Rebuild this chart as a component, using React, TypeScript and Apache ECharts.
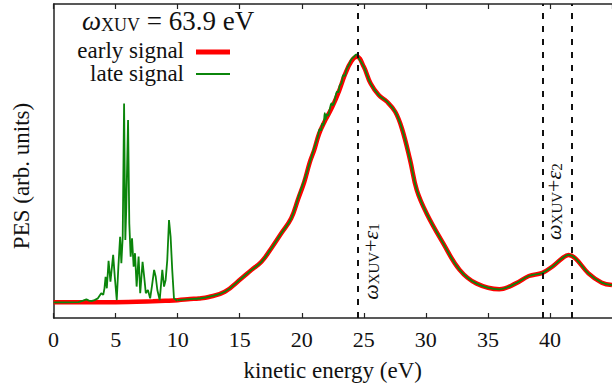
import React, { useEffect, useRef } from "react";
import * as echarts from "echarts";

// Early signal (red), kinetic energy (eV) vs PES (arb. units, main peak = 1)
const earlyX = [0, 2, 4, 6, 8, 9, 10, 11, 11.7, 12.5, 13.8, 15.15, 15.95, 16.75, 17.55, 18.35, 19.15, 19.7, 20.2, 20.65, 21.0, 21.4, 21.9, 22.45, 23.0, 23.5, 24.0, 24.45, 25.0, 25.54, 26.2, 26.87, 27.53, 28.07, 28.73, 29.27, 30.06, 31.4, 32.72, 34.06, 35.92, 37.25, 38.3, 39.39, 40.18, 40.98, 41.5, 42.05, 43.1, 44.18, 45.0];
const earlyY = [0, 0, 0, 0.001, 0.004, 0.006, 0.0085, 0.013, 0.0155, 0.0216, 0.043, 0.098, 0.132, 0.165, 0.22, 0.281, 0.342, 0.42, 0.49, 0.571, 0.62, 0.687, 0.742, 0.795, 0.86, 0.93, 0.982, 1.0, 0.959, 0.892, 0.844, 0.817, 0.776, 0.708, 0.579, 0.457, 0.362, 0.24, 0.132, 0.077, 0.053, 0.077, 0.107, 0.12, 0.145, 0.179, 0.193, 0.179, 0.118, 0.08, 0.07];

// Late signal (green), low-energy spiky part
const lateLowX = [0, 1, 2, 2.37, 2.64, 2.85, 3.04, 3.3, 3.57, 3.84, 4.0, 4.1, 4.19, 4.29, 4.43, 4.58, 4.8, 4.93, 5.09, 5.22, 5.36, 5.46, 5.57, 5.68, 5.78, 5.86, 6.0, 6.1, 6.21, 6.32, 6.45, 6.56, 6.69, 6.85, 6.98, 7.17, 7.3, 7.43, 7.6, 7.78, 7.92, 8.1, 8.23, 8.36, 8.55, 8.76, 8.9, 9.03, 9.16, 9.3, 9.43, 9.56, 9.7, 9.96, 10];
const lateLowY = [0, 0, 0.001, 0.0065, 0.012, 0.007, 0.005, 0.009, 0.016, 0.037, 0.03, 0.057, 0.104, 0.057, 0.169, 0.084, 0.193, 0.104, 0.009, 0.145, 0.267, 0.159, 0.267, 0.81, 0.254, 0.389, 0.742, 0.322, 0.186, 0.261, 0.145, 0.2, 0.064, 0.186, 0.037, 0.165, 0.104, 0.037, 0.05, 0.016, 0.064, 0.132, 0.104, 0.05, 0.009, 0.132, 0.064, 0.091, 0.172, 0.335, 0.267, 0.132, 0.016, 0.0065, 0.0085];

// Late signal, noisy stretch on the rising edge of the main peak
const lateNoiseX = [19.8, 20.3, 20.9, 21.3, 21.45, 21.55, 21.65, 21.75, 21.85, 21.92, 22.0, 22.1, 22.25, 22.4, 22.5, 22.7, 22.85, 22.95, 23.05, 23.2, 23.35, 23.45, 23.6, 23.8, 24.0, 24.2, 24.4, 24.6];
const lateNoiseY = [0.44, 0.512, 0.612, 0.675, 0.705, 0.7, 0.728, 0.722, 0.77, 0.745, 0.765, 0.76, 0.785, 0.81, 0.803, 0.835, 0.858, 0.856, 0.882, 0.892, 0.925, 0.922, 0.948, 0.967, 0.99, 1.0, 1.01, 0.993];

// Marker lines (eV)
const markerEnergies = [24.5, 39.45, 41.75];

export default function App() {
  const ref = useRef<HTMLDivElement>(null);

  useEffect(() => {
    const chart = echarts.init(ref.current as HTMLDivElement, null, { renderer: "svg" });
    const font = "Liberation Serif";
    const axisColor = "#222";
    const textColor = "#111";
    const serif = (size: number, extra: any = {}) => ({
      fontFamily: font,
      fontSize: size,
      lineHeight: size,
      color: textColor,
      fill: textColor,
      ...extra,
    });

    const early = earlyX.map((x, i) => [x, earlyY[i]]);
    const lateLow = lateLowX.map((x, i) => [x, lateLowY[i]]);
    const noiseStart = lateNoiseX[0] - 0.3;
    const noiseEnd = lateNoiseX[lateNoiseX.length - 1] + 0.1;
    const lateHigh = [
      ...early.filter(([x]) => x >= 10 && (x < noiseStart || x > noiseEnd)),
      ...lateNoiseX.map((x, i) => [x, lateNoiseY[i]]),
    ].sort((a, b) => a[0] - b[0]);

    const xCommon = {
      type: "value",
      min: 0,
      max: 45,
      interval: 5,
      splitLine: { show: false },
      axisLine: { show: true, onZero: false, lineStyle: { color: axisColor, width: 1.5 } },
      axisTick: { show: true, inside: true, length: 5, lineStyle: { color: axisColor, width: 1.2 } },
    };

    chart.setOption({
      animation: false,
      textStyle: { fontFamily: font },
      grid: { left: 53.6, right: -5, top: 4, bottom: 72 },
      xAxis: [
        {
          ...xCommon,
          position: "bottom",
          name: "kinetic energy (eV)",
          nameLocation: "middle",
          nameGap: 41,
          nameTextStyle: serif(23),
          axisLabel: {
            show: true,
            margin: 10,
            showMaxLabel: false,
            ...serif(22),
          },
        },
        { ...xCommon, position: "top", axisLabel: { show: false } },
      ],
      yAxis: {
        type: "value",
        min: -0.064,
        max: 1.215,
        name: "PES (arb. units)",
        nameLocation: "middle",
        nameGap: 21,
        nameTextStyle: { ...serif(23), padding: [0, 30, 0, 0] },
        axisLine: { show: true, onZero: false, lineStyle: { color: axisColor, width: 1.5 } },
        axisTick: { show: false },
        axisLabel: { show: false },
        splitLine: { show: false },
      },
      series: [
        {
          name: "early signal",
          type: "line",
          data: early,
          smooth: 0.4,
          symbol: "none",
          lineStyle: { color: "#ff0000", width: 4.5 },
          z: 2,
          markLine: {
            silent: true,
            symbol: ["none", "none"],
            label: { show: false },
            lineStyle: { color: "#111", type: [6, 7], width: 2 },
            data: markerEnergies.map((x) => ({ xAxis: x })),
          },
        },
        {
          name: "late signal",
          type: "line",
          data: lateLow,
          smooth: false,
          symbol: "none",
          lineStyle: { color: "#0b850b", width: 1.8 },
          z: 3,
        },
        {
          name: "late signal",
          type: "line",
          data: lateHigh,
          smooth: 0.4,
          symbol: "none",
          lineStyle: { color: "#0b850b", width: 1.8 },
          z: 3,
        },
      ],
    });

    const px = (x: number, y: number) =>
      chart.convertToPixel({ xAxisIndex: 0, yAxisIndex: 0 }, [x, y]) as number[];
    const p1 = px(markerEnergies[0], 0.01);
    const p2 = px(markerEnergies[1], 0.254);

    const labelRich = {
      m: serif(22, { fontStyle: "italic" }),
      p: serif(22),
      s: serif(15, { lineHeight: 10, verticalAlign: "bottom" }),
    };

    chart.setOption({
      graphic: [
        {
          type: "text",
          x: 82,
          y: 21,
          style: {
            text: "{w|ω}{s|XUV}{t| = 63.9 eV}",
            verticalAlign: "middle",
            align: "left",
            rich: {
              w: serif(27, { fontStyle: "italic", lineHeight: 26 }),
              s: serif(18, { lineHeight: 10, verticalAlign: "bottom" }),
              t: serif(27, { lineHeight: 26 }),
            },
          },
        },
        {
          type: "text",
          x: 184,
          y: 50,
          style: { text: "early signal", align: "right", verticalAlign: "middle", fontFamily: font, fontSize: 23, lineHeight: 20, fill: textColor },
        },
        { type: "line", shape: { x1: 196, y1: 52, x2: 230, y2: 52 }, style: { stroke: "#ff0000", lineWidth: 5 } },
        {
          type: "text",
          x: 184,
          y: 73,
          style: { text: "late signal", align: "right", verticalAlign: "middle", fontFamily: font, fontSize: 23, lineHeight: 20, fill: textColor },
        },
        { type: "line", shape: { x1: 196, y1: 74, x2: 230, y2: 74 }, style: { stroke: "#0b850b", lineWidth: 2 } },
        {
          type: "text",
          x: p1[0] + 12.5,
          y: p1[1],
          rotation: Math.PI / 2,
          style: { text: "{m|ω}{s|XUV}{p|+}{m|ε}{s|1}", align: "left", verticalAlign: "middle", rich: labelRich },
        },
        {
          type: "text",
          x: p2[0] + 10.5,
          y: p2[1],
          rotation: Math.PI / 2,
          style: { text: "{m|ω}{s|XUV}{p|+}{m|ε}{s|2}", align: "left", verticalAlign: "middle", rich: labelRich },
        },
      ],
    });

    return () => chart.dispose();
  }, []);

  return <div ref={ref} style={{ position: "absolute", left: 0, top: 0, width: 612, height: 390 }} />;
}
